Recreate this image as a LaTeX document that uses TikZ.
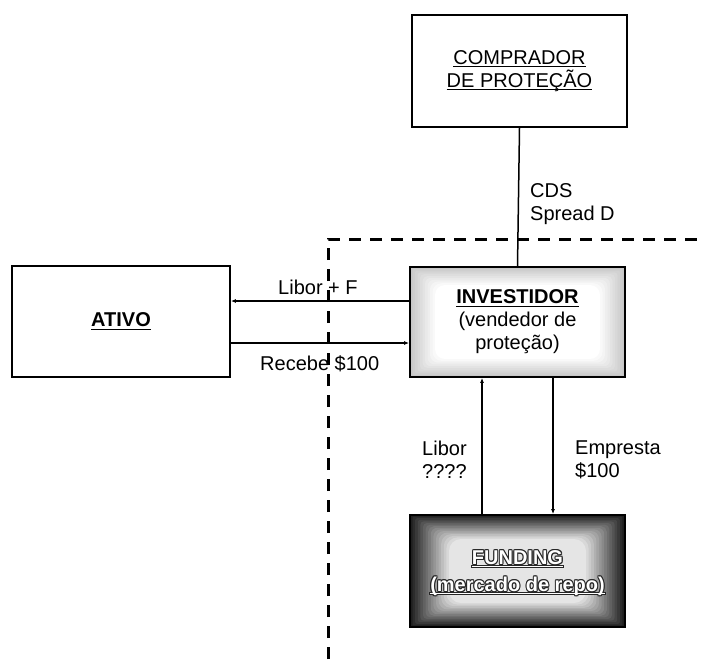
\documentclass[tikz,border=0pt]{standalone}
\usepackage{fontspec}
\setmainfont{Liberation Sans}
\usetikzlibrary{arrows.meta,calc}
\newcommand\myul[1]{\setbox0\hbox{#1}\rlap{\rule[-3pt]{\wd0}{1.3pt}}\box0}
\begin{document}
\begin{tikzpicture}[x=1pt,y=-1pt,
  every node/.style={font=\fontsize{20}{23}\selectfont},
  box/.style={draw, line width=1.8pt, minimum width=215pt, minimum height=112pt, inner sep=0pt, align=center},
  conn/.style={line width=1.5pt},
  arr/.style={conn,-{Latex[length=5pt,width=4pt]}},
  lbl/.style={anchor=north west, inner sep=0pt, align=left},
  bound/.style={line width=3pt, dash pattern=on 12pt off 9pt},
  fundtxt/.style={align=center, inner sep=0pt, font=\fontsize{20}{27}\selectfont\bfseries}]
\useasboundingbox (0,0) rectangle (704,659);
% glow of FUNDING
\foreach \i in {0,...,15}{
  \pgfmathsetmacro\c{88*(1-\i/15)+10*\i/15}
  \fill[black!\c, rounded corners=\i*0.8pt] (410+\i*2.6, 515+\i*1.6) rectangle (625-\i*2.6, 627-\i*1.6);
}
% glow of INVESTIDOR
\foreach \i in {0,...,10}{
  \pgfmathsetmacro\c{22*(1-\i/10)}
  \fill[black!\c, rounded corners=\i*1pt] (410+\i*2.5, 267+\i*1.8) rectangle (625-\i*2.5, 377-\i*1.8);
}
\node[box] (comp) at (519.5,71) {\myul{COMPRADOR}\\\myul{DE PROTEÇÃO}};
\node[box, minimum height=110pt] (inv) at (517.5,322) {\textbf{\myul{INVESTIDOR}}\\(vendedor de\\proteção)};
\node[box, minimum width=218pt, minimum height=111pt] (ativo) at (121,321.5) {\textbf{\myul{ATIVO}}};
\node[box] (fund) at (517.5,571) {};
\foreach \dx/\dy [count=\k] in {1/0,-1/0,0/1,0/-1,0.8/0.8,-0.8/0.8,0.8/-0.8,-0.8/-0.8}
  \node[fundtxt, text=black!85] (fo\k) at ($(fund.center)+(\dx,\dy)+(0,2)$) {\myul{FUNDING}\\\myul{(mercado de repo)}};
\node[fundtxt, text=white] (ft) at ($(fund.center)+(0,2)$) {\myul{FUNDING}\\\myul{(mercado de repo)}};
% boundary
\coordinate (b1) at (328,659);
\coordinate (b2) at (328,239);
\coordinate (b3) at (704,239);
\draw[bound] (b1) -- (b2) -- (b3);
% connectors
\draw[conn] (comp.south) -- (inv.north);
\coordinate (i1) at ([yshift=21pt]inv.west);
\draw[arr] (i1) -- (i1 -| ativo.east);
\coordinate (i2) at ([yshift=-21pt]inv.west);
\draw[arr] (i2 -| ativo.east) -- (i2);
\coordinate (i3) at ([xshift=-35.5pt]inv.south);
\draw[arr] (i3 |- fund.north) -- (i3);
\coordinate (i4) at ([xshift=35.5pt]inv.south);
\draw[arr] (i4) -- (i4 |- fund.north);
% labels
\node[lbl] (l1) at (530,183) {CDS\\Spread D};
\node[lbl] (l2) at (278,280) {Libor + F};
\node[lbl] (l3) at (260,355) {Recebe \$100};
\node[lbl] (l4) at (422,441) {Libor\\????};
\node[lbl] (l5) at (575,441) {Empresta\\\$100};
\end{tikzpicture}
\end{document}
